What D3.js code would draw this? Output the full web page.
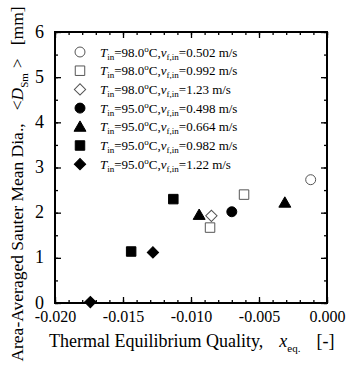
<!DOCTYPE html>
<html>
<head>
<meta charset="utf-8">
<script src="https://cdn.jsdelivr.net/npm/d3@7"></script>
<style>
  body { margin: 0; background: #fff; }
  text { font-family: "Liberation Serif", "Times New Roman", serif; fill: #000; }
</style>
</head>
<body>
<div id="chart"></div>
<script>
// series: inlet temperature, velocity, marker, points [x_eq, D_Sm]
const seriesTemp = ['98.0', '98.0', '98.0', '95.0', '95.0', '95.0', '95.0'];
const seriesVel = ['0.502', '0.992', '1.23', '0.498', '0.664', '0.982', '1.22'];
const seriesMarker = ['circle', 'square', 'diamond', 'circle', 'triangle', 'square', 'diamond'];
const seriesFilled = [false, false, false, true, true, true, true];
const seriesPoints = [
  [[-0.0012, 2.73]],
  [[-0.0061, 2.40], [-0.0086, 1.67]],
  [[-0.0085, 1.93]],
  [[-0.0070, 2.02]],
  [[-0.0094, 1.95], [-0.0031, 2.22]],
  [[-0.0113, 2.30], [-0.0144, 1.14]],
  [[-0.0128, 1.12], [-0.0174, 0.02]]
];
const xTicks = [-0.020, -0.015, -0.010, -0.005, 0.000];
const yTicks = [0, 1, 2, 3, 4, 5, 6];

const W = 350, H = 366;
const m = {left: 55, right: 23, top: 32, bottom: 63};

const svg = d3.select('#chart').append('svg').attr('width', W).attr('height', H);
const x = d3.scaleLinear().domain([-0.020, 0]).range([m.left, W - m.right]);
const y = d3.scaleLinear().domain([0, 6]).range([H - m.bottom, m.top]);

// minor ticks
const xMinor = d3.range(-0.020, 0.0005, 0.001);
const yMinor = d3.range(0, 6.01, 0.5);

function axisGroup(axisFn, scale, ticks, len, transform, fmt) {
  const g = svg.append('g').attr('transform', transform)
    .call(axisFn(scale).tickValues(ticks).tickSize(-len).tickFormat(fmt || ''));
  g.select('.domain').remove();
  g.selectAll('line').attr('stroke', '#000').attr('stroke-width', 1.3);
  return g;
}
const bottomY = H - m.bottom, rightX = W - m.right;
// bottom
axisGroup(d3.axisBottom, x, xMinor, 3, `translate(0,${bottomY})`);
const gx = axisGroup(d3.axisBottom, x, xTicks, 6, `translate(0,${bottomY})`, d3.format('.3f'));
gx.selectAll('text').attr('font-size', 16).attr('dy', '0.75em').attr('y', 7)
  .text(d => d3.format('.3f')(d).replace('−', '-'));
// top
axisGroup(d3.axisTop, x, xMinor, 3, `translate(0,${m.top})`);
axisGroup(d3.axisTop, x, xTicks, 6, `translate(0,${m.top})`);
// left
axisGroup(d3.axisLeft, y, yMinor, 3, `translate(${m.left},0)`);
const gy = axisGroup(d3.axisLeft, y, yTicks, 6, `translate(${m.left},0)`, d3.format('d'));
gy.selectAll('text').attr('font-size', 18).attr('x', -11).attr('dy', '0.28em');
// right
axisGroup(d3.axisRight, y, yMinor, 3, `translate(${rightX},0)`);
axisGroup(d3.axisRight, y, yTicks, 6, `translate(${rightX},0)`);

// frame
svg.append('rect').attr('x', m.left).attr('y', m.top)
  .attr('width', rightX - m.left).attr('height', bottomY - m.top)
  .attr('fill', 'none').attr('stroke', '#000').attr('stroke-width', 2);

// markers
const symType = {circle: d3.symbolCircle, square: d3.symbolSquare, diamond: d3.symbolSquare, triangle: d3.symbolTriangle};
const symSize = {circle: 78, square: 90, diamond: 64, triangle: 62};
function marker(g, type, filled) {
  g.append('path')
    .attr('d', d3.symbol().type(symType[type]).size(symSize[type])())
    .attr('transform', type === 'diamond' ? 'rotate(45)' : (type === 'triangle' ? 'translate(0,1)' : null))
    .attr('fill', filled ? '#000' : '#fff')
    .attr('stroke', filled ? '#000' : '#555')
    .attr('stroke-width', 1);
}

seriesPoints.forEach((pts, i) => {
  pts.forEach(p => {
    const g = svg.append('g').attr('transform', `translate(${x(p[0])},${y(p[1])})`);
    marker(g, seriesMarker[i], seriesFilled[i]);
  });
});

// legend
const legX = 80, legY0 = 52, legDy = 18.7;
seriesTemp.forEach((t, i) => {
  const yy = legY0 + i * legDy;
  const g = svg.append('g').attr('transform', `translate(${legX},${yy})`);
  marker(g, seriesMarker[i], seriesFilled[i]);
  const tx = svg.append('text').attr('x', legX + 20).attr('y', yy + 4.5).attr('font-size', 13);
  tx.append('tspan').attr('font-style', 'italic').text('T');
  tx.append('tspan').attr('font-size', 9).attr('dy', 3).text('in');
  tx.append('tspan').attr('dy', -3).text('=' + t);
  tx.append('tspan').attr('font-size', 9).attr('dy', -5).text('o');
  tx.append('tspan').attr('dy', 5).text('C,');
  tx.append('tspan').attr('font-style', 'italic').text('v');
  tx.append('tspan').attr('font-size', 9).attr('dy', 3).text('f,in');
  tx.append('tspan').attr('dy', -3).text('=' + seriesVel[i] + ' m/s');
});

// axis titles
const xt = svg.append('text').attr('x', 49).attr('y', 347).attr('font-size', 18);
xt.append('tspan').text('Thermal Equilibrium Quality,');
xt.append('tspan').attr('dx', 16).attr('font-style', 'italic').text('x');
xt.append('tspan').attr('font-size', 11).attr('dy', 5).text('eq.');
xt.append('tspan').attr('dy', -5).attr('dx', 16).text('[-]');

const yt = svg.append('text').attr('transform', 'translate(23,184) rotate(-90)')
  .attr('text-anchor', 'middle').attr('font-size', 17.5);
yt.append('tspan').text('Area-Averaged Sauter Mean Dia.,');
yt.append('tspan').attr('dx', 13).text('<');
yt.append('tspan').attr('font-style', 'italic').text('D');
yt.append('tspan').attr('font-size', 11).attr('dy', 5).text('Sm');
yt.append('tspan').attr('dy', -5).attr('dx', 5).text('>');
yt.append('tspan').attr('dx', 13).text('[mm]');
</script>
</body>
</html>
